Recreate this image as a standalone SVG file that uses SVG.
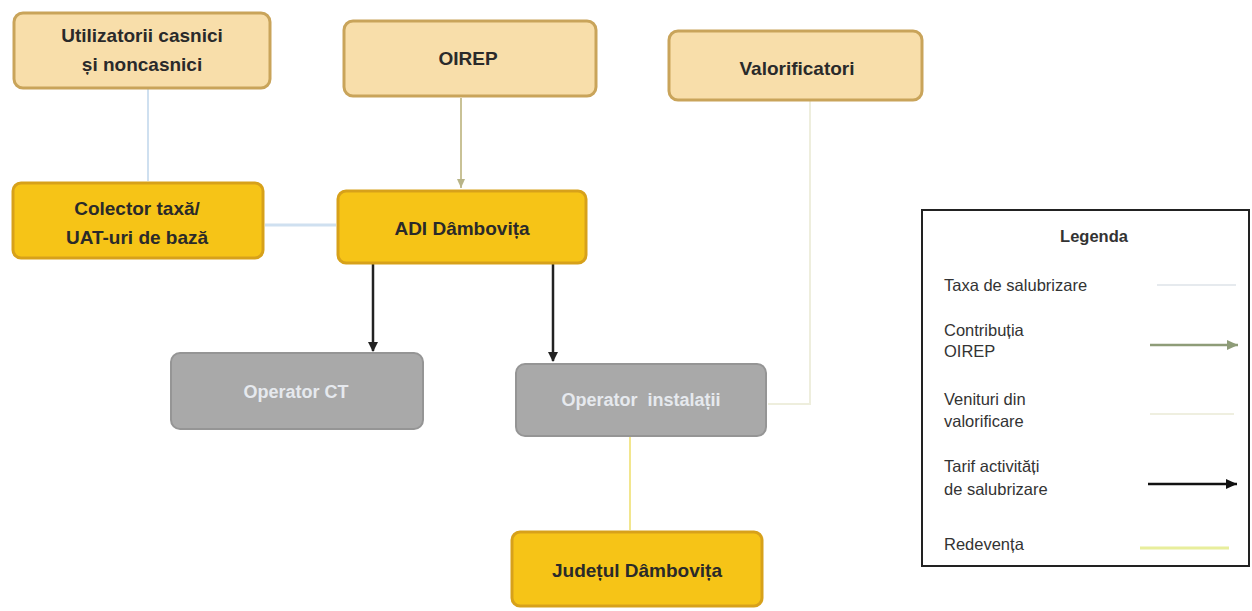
<svg xmlns="http://www.w3.org/2000/svg" width="1252" height="611" viewBox="0 0 1252 611">
<defs>
<style>
.tan{fill:#f8deaa;stroke:#c9a45a;stroke-width:3}
.gold{fill:#f6c417;stroke:#d7a11a;stroke-width:3}
.gray{fill:#a9a9a9;stroke:#959595;stroke-width:2}
.t{font-family:"Liberation Sans",Arial,sans-serif;font-weight:bold;font-size:19px;fill:#2a2a2a;text-anchor:middle}
.tw{font-family:"Liberation Sans",Arial,sans-serif;font-weight:bold;font-size:18px;fill:#e6e9ee;text-anchor:middle}
.lg{font-family:"Liberation Sans",Arial,sans-serif;font-size:16.5px;fill:#333}
</style>
<marker id="ab" markerWidth="10" markerHeight="10" refX="9" refY="5" orient="auto" markerUnits="userSpaceOnUse">
<path d="M0,0 L10,5 L0,10 z" fill="#222"/>
</marker>
<marker id="ao" markerWidth="10" markerHeight="10" refX="9" refY="5" orient="auto" markerUnits="userSpaceOnUse">
<path d="M0,1 L9,5 L0,9 z" fill="#b8b488"/>
</marker>
<marker id="ag" markerWidth="12" markerHeight="12" refX="11" refY="6" orient="auto" markerUnits="userSpaceOnUse">
<path d="M0,1 L11,6 L0,11 z" fill="#8e9c78"/>
</marker>
<marker id="ab2" markerWidth="12" markerHeight="12" refX="11" refY="6" orient="auto" markerUnits="userSpaceOnUse">
<path d="M0,1 L11,6 L0,11 z" fill="#111"/>
</marker>
</defs>
<rect width="1252" height="611" fill="#ffffff"/>

<g id="connectors" fill="none">
<line x1="148" y1="89" x2="148" y2="181" stroke="#cfe0f0" stroke-width="2"/>
<line x1="265" y1="225" x2="336" y2="225" stroke="#cfe0f0" stroke-width="3"/>
<line x1="461" y1="98" x2="461" y2="188" stroke="#c9c296" stroke-width="2" marker-end="url(#ao)"/>
<line x1="373" y1="264" x2="373" y2="351" stroke="#222" stroke-width="2.5" marker-end="url(#ab)"/>
<line x1="553" y1="264" x2="553" y2="361" stroke="#222" stroke-width="2.5" marker-end="url(#ab)"/>
<polyline points="810,101 810,404 768,404" stroke="#eeeedd" stroke-width="2"/>
<line x1="630" y1="437" x2="630" y2="530" stroke="#f2e68e" stroke-width="2"/>
</g>

<g id="node-utilizatorii">
<rect class="tan" x="14" y="13" width="256" height="75" rx="9"/>
<text class="t" x="142" y="42">Utilizatorii casnici</text>
<text class="t" x="142" y="71">și noncasnici</text>
</g>
<g id="node-oirep">
<rect class="tan" x="344" y="21" width="252" height="75" rx="9"/>
<text class="t" x="468" y="65">OIREP</text>
</g>
<g id="node-valorificatori">
<rect class="tan" x="669" y="31" width="253" height="69" rx="9"/>
<text class="t" x="797" y="75">Valorificatori</text>
</g>
<g id="node-colector">
<rect class="gold" x="13" y="183" width="250" height="75" rx="8"/>
<text class="t" x="137" y="215">Colector taxă/</text>
<text class="t" x="137" y="244">UAT-uri de bază</text>
</g>
<g id="node-adi">
<rect class="gold" x="338" y="191" width="248" height="72" rx="8"/>
<text class="t" x="462" y="235">ADI Dâmbovița</text>
</g>
<g id="node-operator-ct">
<rect class="gray" x="171" y="353" width="252" height="76" rx="9"/>
<text class="tw" x="296" y="398">Operator CT</text>
</g>
<g id="node-operator-instalatii">
<rect class="gray" x="516" y="364" width="250" height="72" rx="9"/>
<text class="tw" x="641" y="406" xml:space="preserve">Operator  instalații</text>
</g>
<g id="node-judetul">
<rect class="gold" x="512" y="532" width="250" height="74" rx="8"/>
<text class="t" x="637" y="577">Județul Dâmbovița</text>
</g>

<g id="legend">
<rect x="922" y="210" width="327" height="356" fill="#fff" stroke="#222" stroke-width="2"/>
<text class="lg" x="1094" y="242" text-anchor="middle" font-weight="bold" font-size="17px">Legenda</text>
<text class="lg" x="944" y="291">Taxa de salubrizare</text>
<line x1="1157" y1="285" x2="1236" y2="285" stroke="#e6eaee" stroke-width="2"/>
<text class="lg" x="944" y="336">Contribuția</text>
<text class="lg" x="944" y="357">OIREP</text>
<line x1="1150" y1="345" x2="1238" y2="345" stroke="#8e9c78" stroke-width="2.5" marker-end="url(#ag)"/>
<text class="lg" x="944" y="405">Venituri din</text>
<text class="lg" x="944" y="427">valorificare</text>
<line x1="1150" y1="414" x2="1234" y2="414" stroke="#efefe0" stroke-width="2"/>
<text class="lg" x="944" y="472">Tarif activități</text>
<text class="lg" x="944" y="495">de salubrizare</text>
<line x1="1148" y1="484" x2="1237" y2="484" stroke="#111" stroke-width="2.5" marker-end="url(#ab2)"/>
<text class="lg" x="944" y="550">Redevența</text>
<line x1="1140" y1="548" x2="1229" y2="548" stroke="#e8ee9c" stroke-width="3"/>
</g>
</svg>
